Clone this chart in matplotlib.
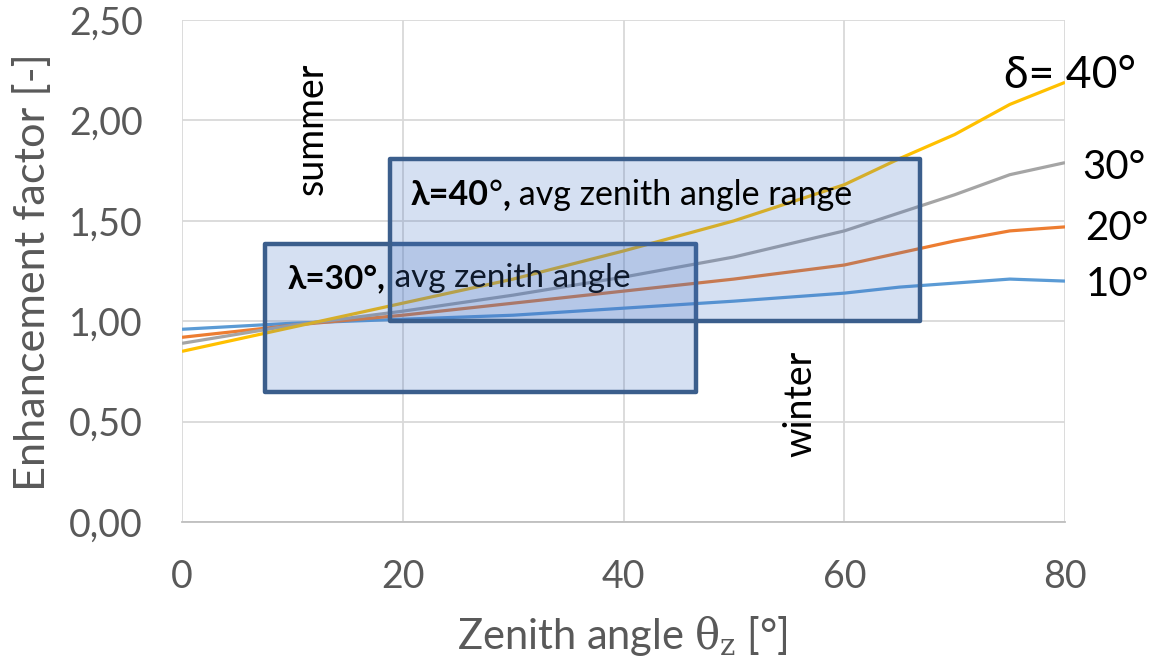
import matplotlib
matplotlib.use("Agg")
import matplotlib.pyplot as plt
from matplotlib.patches import Rectangle

plt.rcParams['font.family'] = ['Lato', 'DejaVu Sans']
plt.rcParams['mathtext.fontset'] = 'dejavuserif'

zenith = [0, 10, 20, 30, 40, 50, 60, 65, 70, 75, 80]
delta10 = [0.96, 0.99, 1.01, 1.03, 1.065, 1.10, 1.14, 1.17, 1.19, 1.21, 1.20]
delta20 = [0.92, 0.98, 1.03, 1.09, 1.15, 1.21, 1.28, 1.34, 1.40, 1.45, 1.47]
delta30 = [0.89, 0.98, 1.05, 1.13, 1.22, 1.32, 1.45, 1.54, 1.63, 1.73, 1.79]
delta40 = [0.85, 0.97, 1.09, 1.21, 1.35, 1.50, 1.68, 1.81, 1.93, 2.08, 2.19]
series_labels = ["10°", "20°", "30°", "δ= 40°"]
colors = ["#5b9bd5", "#ed7d31", "#a5a5a5", "#ffc000"]
yticks = [0, 0.5, 1.0, 1.5, 2.0, 2.5]
xticks = [0, 20, 40, 60, 80]

# boxes: (x0, x1, y0, y1)
box30 = (7.5, 46.6, 0.65, 1.385)
box40 = (18.8, 66.9, 1.0, 1.81)

fig = plt.figure(figsize=(11.54, 6.70), dpi=100)
ax = fig.add_axes([0.1577, 0.2209, 0.9229 - 0.1577, 0.970 - 0.2209])

for ys, c in zip([delta10, delta20, delta30, delta40], colors):
    ax.plot(zenith, ys, color=c, lw=2.3, solid_capstyle='butt', zorder=3)

for (x0, x1, y0, y1), z in zip([box30, box40], [4, 5]):
    ax.add_patch(Rectangle((x0, y0), x1 - x0, y1 - y0, facecolor=(0.267, 0.447, 0.769, 0.22),
                           edgecolor='#3b5e8c', lw=3.2, zorder=z, joinstyle='round'))

ax.set_xlim(0, 80)
ax.set_ylim(0, 2.5)
ax.set_xticks(xticks)
ax.set_yticks(yticks)
ax.set_yticklabels([f"{v:.2f}".replace('.', ',') for v in yticks])
ax.grid(True, color='#d9d9d9', lw=1.3, zorder=0)
ax.set_axisbelow(True)
for s in ['top', 'right', 'left']:
    ax.spines[s].set_visible(False)
ax.spines['bottom'].set_color('#bfbfbf')
ax.spines['bottom'].set_linewidth(1.3)
ax.tick_params(axis='both', which='both', length=0, labelsize=27, labelcolor='#595959')
ax.tick_params(axis='x', pad=27)
ax.tick_params(axis='y', pad=28)

ylab = fig.text(33 / 1154, 1 - 272 / 670, "Enhancement factor [-]", fontsize=27.5, color='#595959',
                rotation=90, ha='center', va='center')
fig.canvas.draw()
h = ylab.get_window_extent().height
ylab.set_fontsize(27.5 * 440 / h)

fig.text(622 / 1154, 1 - 636 / 670, r"Zenith angle $\mathrm{\theta}_\mathrm{z}$ [°]", fontsize=30,
         color='#595959', ha='center', va='center')


def chain(x, y, parts, size, z):
    t = ax.text(x, y, parts[0][0], fontsize=size, fontweight=parts[0][1],
                va='baseline', ha='left', zorder=z)
    for s, w in parts[1:]:
        t = ax.annotate(s, xy=(1, 0), xycoords=t, fontsize=size, fontweight=w,
                        va='bottom', ha='left', zorder=z)
    return t


chain(9.6, 1.165, [("λ=30°,", 'bold'), (" avg zenith angle", 'normal')], 24, 4.5)
chain(20.7, 1.579, [("λ=40", 'bold'), ("°", 'normal'), (",", 'bold'),
                    (" avg zenith angle range", 'normal')], 24.5, 5.5)

ax.text(11.8, 1.96, "summer", rotation=90, fontsize=27, ha='center', va='center', zorder=6)
ax.text(56.0, 0.59, "winter", rotation=90, fontsize=27, ha='center', va='center', zorder=6)

ax.text(74.5, 2.226, "δ= 40°", fontsize=32, ha='left', va='center', clip_on=False)
ax.text(81.6, 1.768, "30°", fontsize=29, ha='left', va='center', clip_on=False)
ax.text(81.8, 1.464, "20°", fontsize=29, ha='left', va='center', clip_on=False)
ax.text(81.9, 1.185, "10°", fontsize=29, ha='left', va='center', clip_on=False)

fig.savefig("out.png", dpi=100)
